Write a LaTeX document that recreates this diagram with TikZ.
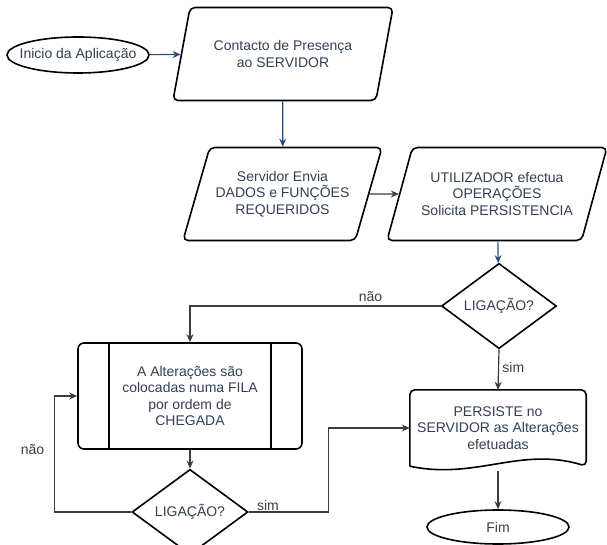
\documentclass[tikz,border=0pt]{standalone}
\usepackage{fontspec}
\setmainfont{Liberation Sans}
\usetikzlibrary{shapes.geometric,arrows.meta}
\definecolor{edgeblue}{RGB}{35,80,130}
\definecolor{edgegrey}{RGB}{60,60,60}
\definecolor{txtslate}{RGB}{50,62,82}
\begin{document}
\begin{tikzpicture}[x=1pt,y=-1pt,
                    font=\fontsize{14}{16.5}\selectfont,
                    termnode/.style = {shape = ellipse,
                                       draw,
                                       line width = 1.6pt,
                                       inner sep = -12pt,
                                       minimum width = 142pt,
                                       minimum height = 36pt,
                                       text = txtslate},
                    ionode/.style = {shape = trapezium,
                                     trapezium left angle = 63,
                                     trapezium right angle = 117,
                                     trapezium stretches body,
                                     draw,
                                     line width = 1.6pt,
                                     rounded corners = 5pt,
                                     minimum width = 220pt,
                                     minimum height = 93pt,
                                     align = center,
                                     text = txtslate},
                    decnode/.style = {shape = diamond,
                                      draw,
                                      line width = 1.6pt,
                                      inner sep = 0pt,
                                      minimum width = 115pt,
                                      minimum height = 67pt,
                                      text = txtslate},
                    procnode/.style = {shape = rectangle,
                                       draw,
                                       line width = 1.6pt,
                                       rounded corners = 6pt,
                                       minimum width = 224pt,
                                       minimum height = 106pt,
                                       align = center,
                                       text = txtslate},
                    docnode/.style = {shape = rectangle,
                                      minimum width = 176pt,
                                      minimum height = 76pt,
                                      align = center,
                                      text = txtslate},
                    edgeline/.style = {draw = edgegrey,
                                       line width = 1.2pt,
                                       -{Stealth[length=8pt,width=7pt]}},
                    blueline/.style = {edgeline, draw = edgeblue},
                    lbl/.style = {text = edgegrey}]
		\useasboundingbox (0,0) rectangle (607,545);
		% nodes
		\node[termnode] (inicio) at (78,55) {Inicio da Aplicação};
		\node[ionode] (contacto) at (283,54) {Contacto de Presença\\ao SERVIDOR};
		\node[ionode, minimum width = 199pt] (envia) at (282.5,194) {Servidor Envia\\DADOS e FUNÇÕES\\REQUERIDOS};
		\node[ionode] (utiliz) at (497,194) {UTILIZADOR efectua\\OPERAÇÕES\\Solicita PERSISTENCIA};
		\node[decnode] (lig1) at (499,306) {LIGAÇÃO?};
		\node[procnode] (fila) at (190,396) {A Alterações são\\colocadas numa FILA\\por ordem de\\CHEGADA};
		\draw[line width = 1.6pt] ([xshift=32pt]fila.north west) -- ([xshift=32pt]fila.south west);
		\draw[line width = 1.6pt] ([xshift=-32pt]fila.north east) -- ([xshift=-32pt]fila.south east);
		\node[decnode, minimum width = 116pt, minimum height = 68pt] (lig2) at (190,512) {LIGAÇÃO?};
		\node[docnode] (doc) at (498,428) {PERSISTE no\\SERVIDOR as Alterações\\efetuadas};
		\draw[line width = 1.6pt, rounded corners = 5pt] (doc.south west) -- (doc.north west) -- (doc.north east) -- (doc.south east)
			[sharp corners] .. controls ([shift={(-66,-20)}]doc.south east) and ([shift={(66,14)}]doc.south west) .. (doc.south west);
		\node[termnode, minimum height = 34pt] (fim) at (498,527) {Fim};
		% connectors
		\path[blueline] (inicio) edge (contacto);
		\path[blueline] (contacto) edge (envia);
		\path[edgeline] (envia) edge (utiliz);
		\path[blueline] (utiliz) edge (lig1);
		\draw[edgeline] (lig1.west) -- node[lbl, above, pos=0.28] {não} (fila.north |- lig1.west) -- (fila.north);
		\draw[edgeline] (lig1.south) -- node[lbl, right, pos=0.45] {sim} (doc.north);
		\draw[edgeline] (fila.south) -- (lig2.north);
		\draw[edgeline] (lig2.west) -- ++(-77,0) coordinate (loopc) -- node[lbl, left, pos=0.54, xshift=-6pt] {não} (loopc |- fila.west) -- (fila.west);
		\draw[edgeline] (lig2.east) -- node[lbl, above, pos=0.24, inner sep=1pt] {sim} ++(80,0) |- (doc.west);
		\draw[edgeline, shorten <=5pt] (doc.south) -- (fim.north);
	\end{tikzpicture}
\end{document}
